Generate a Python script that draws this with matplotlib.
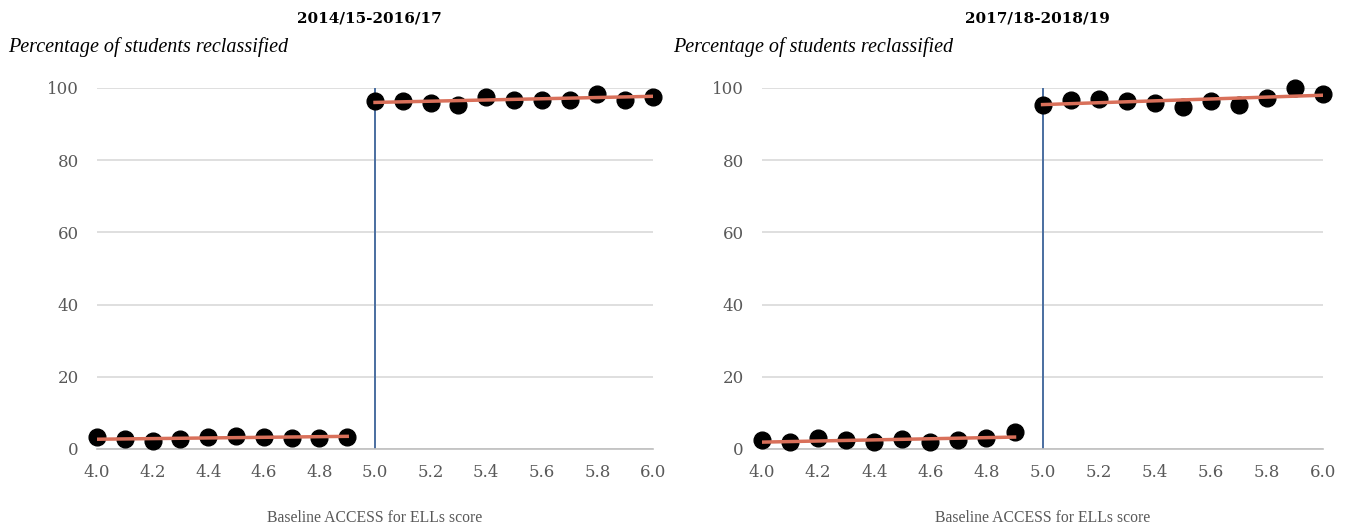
import numpy as np
import matplotlib.pyplot as plt

plt.rcParams['font.family'] = ['DejaVu Serif']

# ACCESS score bins (below / at-or-above the 5.0 cutoff)
x_below = [4.0, 4.1, 4.2, 4.3, 4.4, 4.5, 4.6, 4.7, 4.8, 4.9]
x_above = [5.0, 5.1, 5.2, 5.3, 5.4, 5.5, 5.6, 5.7, 5.8, 5.9, 6.0]

# 2014/15-2016/17
p1_below = [3.4, 2.7, 2.3, 2.7, 3.2, 3.6, 3.4, 3.0, 3.1, 3.4]
p1_above = [96.3, 96.5, 95.8, 95.3, 97.4, 96.8, 96.7, 96.8, 98.2, 96.8, 97.6]
p1_fit_below = [2.7, 3.5]
p1_fit_above = [96.0, 97.7]

# 2017/18-2018/19
p2_below = [2.5, 1.8, 3.0, 2.5, 2.0, 2.7, 2.0, 2.5, 3.0, 4.7]
p2_above = [95.3, 96.7, 97.0, 96.5, 95.8, 94.8, 96.5, 95.3, 97.2, 99.9, 98.3]
p2_fit_below = [1.9, 3.3]
p2_fit_above = [95.4, 98.0]

titles = ['2014/15-2016/17', '2017/18-2018/19']
cutoff = 5.0

fig = plt.figure(figsize=(13.49, 5.25), dpi=100)
axes = [fig.add_axes([0.0719, 0.1448, 0.4122, 0.6876]),
        fig.add_axes([0.5649, 0.1448, 0.4159, 0.6876])]

panels = [(p1_below, p1_above, p1_fit_below, p1_fit_above),
          (p2_below, p2_above, p2_fit_below, p2_fit_above)]

for ax, title, (yb, ya, fb, fa) in zip(axes, titles, panels):
    ax.set_xlim(4.0, 6.0)
    ax.set_ylim(0, 100)
    ax.set_yticks(np.arange(0, 101, 20))
    ax.set_xticks(np.arange(4.0, 6.01, 0.2))
    ax.set_xticklabels([f'{t:.1f}' for t in np.arange(4.0, 6.01, 0.2)])
    ax.grid(axis='y', color='#d9d9d9', linewidth=1.2)
    ax.set_axisbelow(True)
    for side in ['top', 'right', 'left']:
        ax.spines[side].set_visible(False)
    ax.spines['bottom'].set_color('#bfbfbf')
    ax.spines['bottom'].set_linewidth(1.2)
    ax.tick_params(length=0, labelsize=12, colors='#595959')
    ax.tick_params(axis='y', pad=13)
    ax.tick_params(axis='x', pad=11)

    ax.axvline(cutoff, color='#4a6ea0', linewidth=1.4, zorder=2)
    ax.scatter(x_below, yb, s=145, color='black', zorder=3, clip_on=False)
    ax.scatter(x_above, ya, s=145, color='black', zorder=3, clip_on=False)
    ax.plot([x_below[0], x_below[-1]], fb, color='#d9705a', linewidth=2.5, zorder=4)
    ax.plot([x_above[0], x_above[-1]], fa, color='#d9705a', linewidth=2.5, zorder=4)

    ax.set_xlabel('Baseline ACCESS for ELLs score', fontsize=11.3, color='#595959',
                  family='Liberation Serif', labelpad=21)

    bb = ax.get_position()
    fig.text(bb.x0 + bb.width / 2 - 0.004, 0.965, title, ha='center', va='center',
             fontsize=11, fontweight='bold', color='black')
    fig.text(bb.x0 - 0.066, 0.91, 'Percentage of students reclassified',
             ha='left', va='center', fontsize=14.5, style='italic', color='black',
             family='Liberation Serif')

fig.savefig('out.png', dpi=100)
